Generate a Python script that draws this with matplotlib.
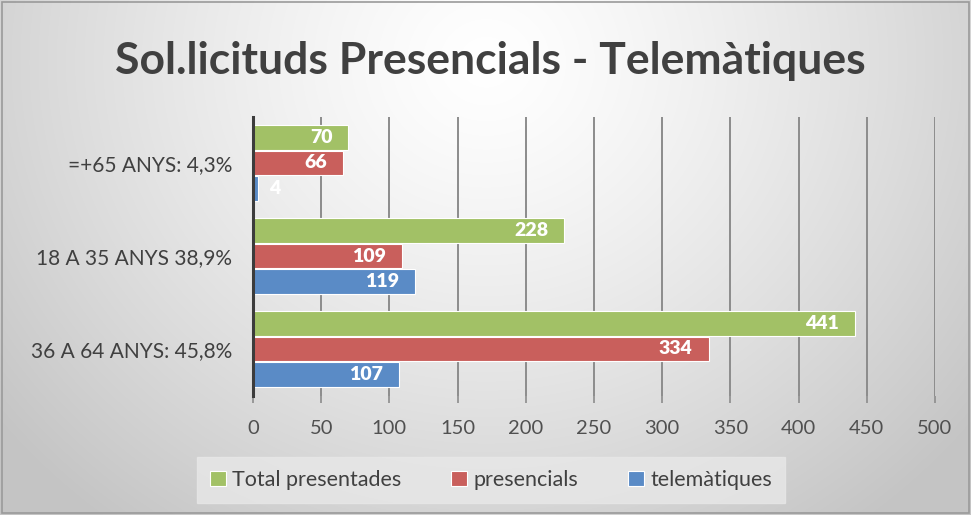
import numpy as np
import matplotlib
matplotlib.use("Agg")
import matplotlib.pyplot as plt
from matplotlib.patches import Rectangle

plt.rcParams['font.family'] = ['Lato', 'DejaVu Sans']

categories = ["36 A 64 ANYS: 45,8%", "18 A 35 ANYS 38,9%", "=+65 ANYS: 4,3%"]
total = [441, 228, 70]
presencials = [334, 109, 66]
telematiques = [107, 119, 4]
series_names = ["Total presentades", "presencials", "telemàtiques"]
colors = ["#A2C166", "#C95F5C", "#5A8BC6"]
xticks = [0, 50, 100, 150, 200, 250, 300, 350, 400, 450, 500]
title = "Sol.licituds Presencials - Telemàtiques"

W, H = 971, 515
fig = plt.figure(figsize=(W / 100, H / 100), dpi=100)

# gradient background
bg = fig.add_axes([0, 0, 1, 1], zorder=-5)
yy, xx = np.mgrid[0:H, 0:W]
cx, cy = W * 0.5, H * 0.12
d = np.sqrt(((xx - cx) / (W * 0.6)) ** 2 + ((yy - cy) / (H * 1.05)) ** 2)
v = np.clip(1.0 - 0.21 * d ** 1.3, 0.77, 1.0)
img = np.dstack([v, v, v])
bg.imshow(img, aspect='auto', extent=[0, 1, 0, 1], origin='upper')
bg.set_xlim(0, 1)
bg.set_ylim(0, 1)
bg.axis('off')
bg.add_patch(Rectangle((0.002, 0.004), 0.996, 0.992, fill=False, edgecolor='#9a9a9a', lw=1.2,
                       transform=bg.transAxes))

ax = fig.add_axes([253 / W, 1 - 395.5 / H, (935 - 253) / W, (395.5 - 116.5) / H])
ax.set_facecolor('none')

y = np.arange(len(categories))
step = 0.274
h = 0.262
offsets = [step, 0, -step]
data = [total, presencials, telematiques]
for vals, off, col, name in zip(data, offsets, colors, series_names):
    bars = ax.barh(y + off, vals, height=h, color=col, edgecolor='white', linewidth=0.8,
                   label=name, zorder=3)
    for b, val in zip(bars, vals):
        cy_ = b.get_y() + b.get_height() / 2
        if val < 20:
            ax.annotate(str(val), (val, cy_), xytext=(8, 0), textcoords='offset points',
                        ha='left', va='center', color='white', fontsize=14,
                        fontweight='heavy', zorder=4)
        else:
            ax.annotate(str(val), (val, cy_), xytext=(-11.5, 0), textcoords='offset points',
                        ha='right', va='center', color='white', fontsize=14,
                        fontweight='heavy', zorder=4)

ax.set_xlim(0, 500)
ax.set_ylim(-0.5, 2.5)
ax.set_xticks(xticks)
ax.set_xticklabels([str(t) for t in xticks])
ax.set_yticks(y)
ax.set_yticklabels(categories)
ax.grid(axis='x', color='#8c8c8c', linewidth=1.4, zorder=1)
ax.grid(axis='y', visible=False)
for s in ['top', 'right', 'bottom']:
    ax.spines[s].set_visible(False)
ax.spines['left'].set_color('#3c3c3c')
ax.spines['left'].set_linewidth(2.2)
ax.spines['left'].set_zorder(5)
ax.tick_params(axis='y', length=0, pad=15, labelsize=15, labelcolor='#404040')
ax.tick_params(axis='x', length=5, width=1.2, color='#8c8c8c', pad=13, labelsize=14.5,
               labelcolor='#505050')

fig.text(0.505, 0.882, title, ha='center', va='center', fontsize=32, fontweight='bold',
         color='#404040')

handles, labels = ax.get_legend_handles_labels()
leg = fig.legend(handles, labels, loc='center', bbox_to_anchor=(491 / W, 1 - 480 / H),
                 ncol=3, frameon=True, fontsize=15.5, handlelength=0.75, handleheight=0.75,
                 handletextpad=0.3, columnspacing=2.3, borderpad=0.6, borderaxespad=0)
leg.get_frame().set_facecolor('#e8e8e8')
leg.get_frame().set_edgecolor('#e8e8e8')
leg.get_frame().set_boxstyle('square', pad=0)
for t in leg.get_texts():
    t.set_color('#404040')

fig.savefig('out.png', dpi=100)
